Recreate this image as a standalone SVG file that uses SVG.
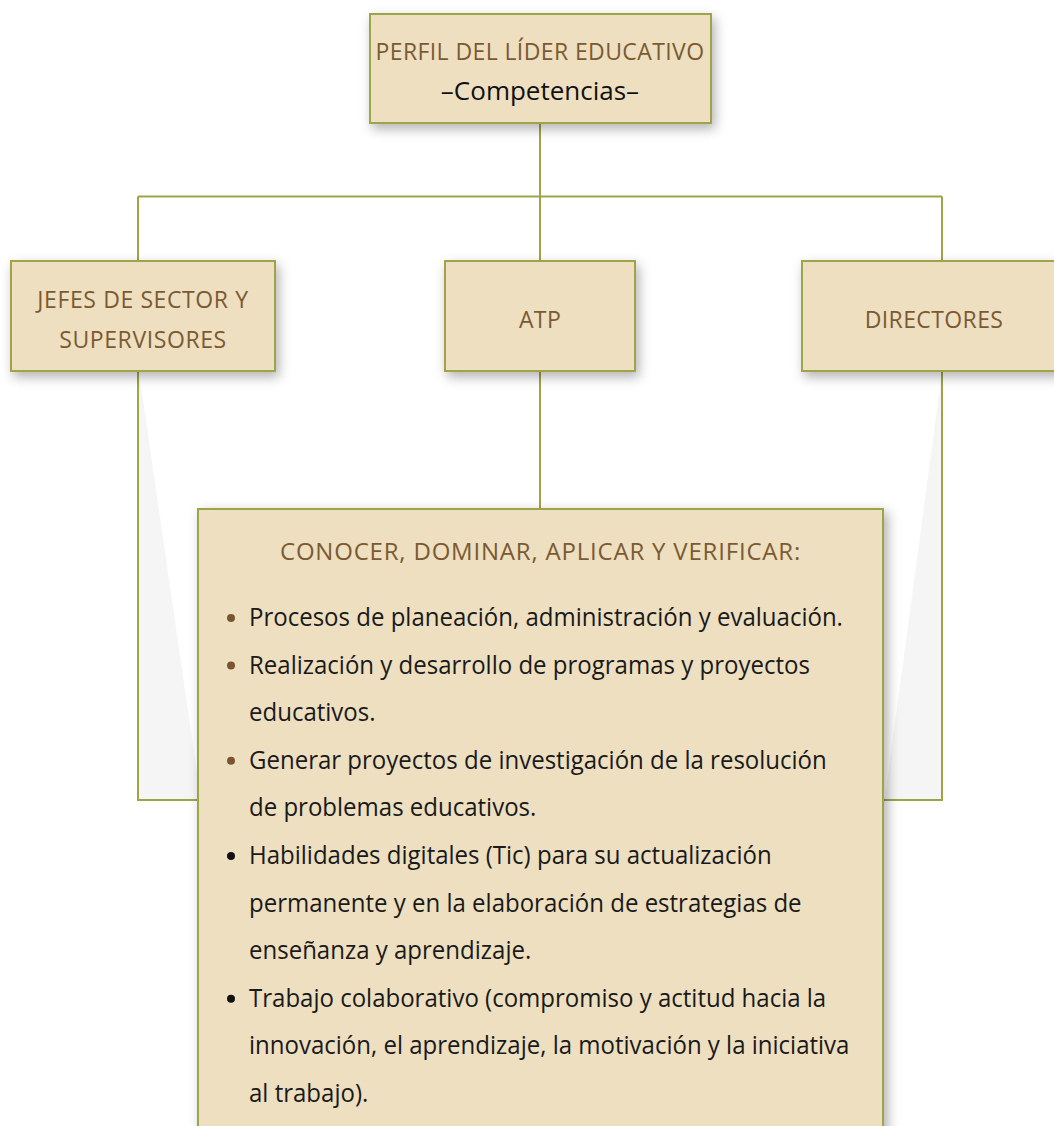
<svg xmlns="http://www.w3.org/2000/svg" width="1054" height="1126" viewBox="0 0 1054 1126">
<defs>
<filter id="sh" x="-20%" y="-30%" width="140%" height="160%">
<feDropShadow dx="3" dy="5" stdDeviation="6" flood-color="#000" flood-opacity="0.3"/>
</filter>
<filter id="shm" x="-10%" y="-10%" width="120%" height="120%">
<feDropShadow dx="4" dy="4" stdDeviation="6" flood-color="#000" flood-opacity="0.3"/>
</filter>
</defs>
<style>
.box{fill:#eddfc0;stroke:#9ea448;stroke-width:2}
.con{fill:none;stroke:#9ea448;stroke-width:2}
.cap{font-family:"Open Sans","Noto Sans",sans-serif;font-size:23px;fill:#7b5a32;text-anchor:middle;letter-spacing:0.4px}
.body{font-family:"Open Sans","Noto Sans",sans-serif;font-size:26px;fill:#1a1a1a}
.wedge{fill:#f5f5f5}
</style>
<rect width="1054" height="1126" fill="#fff"/>
<g id="wedges">
<polygon class="wedge" points="139,372 198,780 198,800 139,800"/>
<polygon class="wedge" points="942,372 884,805 884,800 942,800"/>
</g>
<g id="connectors">
<path class="con" d="M540,123 V196.5 M138,196.5 H942 M138,196.5 V261 M540,196.5 V261 M942,196.5 V261"/>
<path class="con" d="M540,371 V509"/>
<path class="con" d="M138,371 V800 H198"/>
<path class="con" d="M942,371 V800 H883"/>
</g>
<g id="top">
<rect class="box" x="370" y="14" width="341" height="109" filter="url(#sh)"/>
<text class="cap" x="540" y="60">PERFIL DEL LÍDER EDUCATIVO</text>
<text x="540" y="100" font-family="Open Sans, Noto Sans, sans-serif" font-size="26" fill="#111" text-anchor="middle">–Competencias–</text>
</g>
<g id="jefes">
<rect class="box" x="11" y="261" width="264" height="110" filter="url(#sh)"/>
<text class="cap" x="143" y="308" style="letter-spacing:0.6px">JEFES DE SECTOR Y</text>
<text class="cap" x="143" y="348" style="letter-spacing:0.6px">SUPERVISORES</text>
</g>
<g id="atp">
<rect class="box" x="445" y="261" width="190" height="110" filter="url(#sh)"/>
<text class="cap" x="540" y="328">ATP</text>
</g>
<g id="directores">
<rect class="box" x="802" y="261" width="264" height="110" filter="url(#sh)"/>
<text class="cap" x="934" y="328">DIRECTORES</text>
</g>
<g id="main">
<rect class="box" x="198" y="509" width="685" height="640" filter="url(#shm)"/>
<text class="cap" x="540.5" y="560" style="font-size:24px;letter-spacing:0.8px">CONOCER, DOMINAR, APLICAR Y VERIFICAR:</text>
<circle cx="231" cy="618" r="4" fill="#7b5530"/>
<circle cx="231" cy="665.6" r="4" fill="#7b5530"/>
<circle cx="231" cy="760.8" r="4" fill="#7b5530"/>
<circle cx="231" cy="856" r="4" fill="#111"/>
<circle cx="231" cy="998.8" r="4" fill="#111"/>
<g transform="translate(249 0) scale(0.924 1)">
<text class="body" x="0" y="626">Procesos de planeación, administración y evaluación.</text>
<text class="body" x="0" y="673.6">Realización y desarrollo de programas y proyectos</text>
<text class="body" x="0" y="721.2">educativos.</text>
<text class="body" x="0" y="768.8">Generar proyectos de investigación de la resolución</text>
<text class="body" x="0" y="816.4">de problemas educativos.</text>
<text class="body" x="0" y="864">Habilidades digitales (Tic) para su actualización</text>
<text class="body" x="0" y="911.6">permanente y en la elaboración de estrategias de</text>
<text class="body" x="0" y="959.2">enseñanza y aprendizaje.</text>
<text class="body" x="0" y="1006.8">Trabajo colaborativo (compromiso y actitud hacia la</text>
<text class="body" x="0" y="1054.4">innovación, el aprendizaje, la motivación y la iniciativa</text>
<text class="body" x="0" y="1102">al trabajo).</text>
</g>
</g>
</svg>
